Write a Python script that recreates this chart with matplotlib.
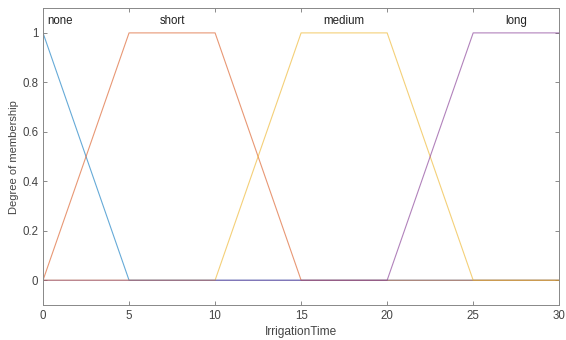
import numpy as np
import matplotlib.pyplot as plt

plt.rcParams['font.family'] = ['Liberation Sans', 'DejaVu Sans']

# membership functions of the output variable (trapezoid corners)
mf_names = ['none', 'short', 'medium', 'long']
mf_params = [[0, 0, 0, 5], [0, 5, 10, 15], [10, 15, 20, 25], [20, 25, 30, 30]]
mf_colors = ['#0072bd', '#d95319', '#edb120', '#7e2f8e']
label_x = [1.0, 7.5, 17.5, 27.5]
x_range = [0, 30]


def trapmf(x, p):
    a, b, c, d = p
    y = np.zeros_like(x)
    up = (x >= a) & (x < b)
    y[up] = (x[up] - a) / (b - a)
    y[(x >= b) & (x <= c)] = 1.0
    down = (x > c) & (x <= d)
    y[down] = (d - x[down]) / (d - c)
    return y


x = np.linspace(x_range[0], x_range[1], 1201)

fig = plt.figure(figsize=(5.66, 3.4), dpi=100)
ax = fig.add_axes([0.076, 0.103, 0.912, 0.873])

for name, p, c, lx in zip(mf_names, mf_params, mf_colors, label_x):
    ax.plot(x, trapmf(x, p), color=c, lw=0.8, alpha=0.6)
    ax.text(lx, 1.05, name, ha='center', va='center', fontsize=8.3, color='#222222')

ax.set_xlim(x_range)
ax.set_ylim(-0.1, 1.1)
ax.set_xticks(np.arange(0, 31, 5))
ax.set_yticks([0, 0.2, 0.4, 0.6, 0.8, 1])
ax.set_yticklabels(['0', '0.2', '0.4', '0.6', '0.8', '1'])
ax.tick_params(direction='in', top=True, right=True, length=3, width=0.6,
               colors='#777777', labelcolor='#444444', labelsize=8.3)
for s in ax.spines.values():
    s.set_color('#888888')
    s.set_linewidth(0.7)

ax.set_xlabel('IrrigationTime', fontsize=8.6, color='#444444', labelpad=3)
ax.set_ylabel('Degree of membership', fontsize=8, color='#444444', labelpad=2)

fig.savefig('out.png', dpi=100)
